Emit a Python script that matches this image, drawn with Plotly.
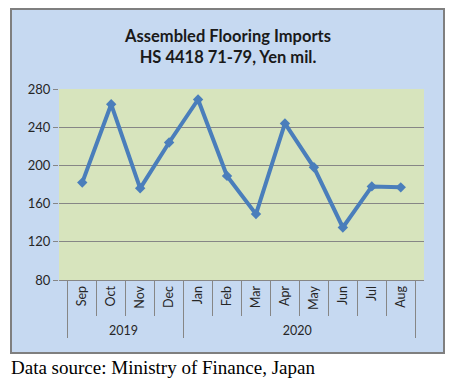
import plotly.graph_objects as go

years = ["2019"] * 4 + ["2020"] * 8
months = ["Sep", "Oct", "Nov", "Dec", "Jan", "Feb", "Mar", "Apr", "May", "Jun", "Jul", "Aug"]
values = [182, 264, 176, 224, 269, 189, 149, 244, 198, 135, 178, 177]
y_ticks = [80, 120, 160, 200, 240, 280]

W, H = 462, 380
L, R, T, B = 59, 38, 89, 100
pw, ph = W - L - R, H - T - B

def px(x):
    return (x - L) / pw

def py(y):
    return (H - B - y) / ph

fig = go.Figure()
fig.add_trace(go.Scatter(
    x=[years, months], y=values, mode="lines+markers",
    line=dict(color="#4A7EBB", width=4),
    marker=dict(symbol="diamond", size=8, color="#4A7EBB"),
    showlegend=False,
))

fig.update_layout(
    width=W, height=H,
    margin=dict(l=L, r=R, t=T, b=B, autoexpand=False),
    paper_bgcolor="white",
    plot_bgcolor="#D7E4BD",
    font=dict(family="Lato, sans-serif", color="#262626"),
    title=dict(
        text="<b>Assembled Flooring Imports<br>HS 4418 71-79, Yen mil.</b>",
        x=px(228), xref="paper", xanchor="center",
        y=1 - 42 / H, yref="container", yanchor="top",
        font=dict(size=16.5, family="Lato, sans-serif", color="#1a1a1a"),
    ),
    xaxis=dict(
        type="multicategory",
        automargin=False,
        tickangle=-90,
        tickfont=dict(size=12.5, color="#262626"),
        showgrid=False,
        ticks="outside", tickson="boundaries", ticklen=35, tickcolor="#868686",
        showdividers=True, dividercolor="#868686", dividerwidth=1,
        showline=True, linecolor="#868686", linewidth=1,
    ),
    yaxis=dict(
        automargin=False,
        range=[80, 280], tickvals=y_ticks,
        tickfont=dict(size=13, color="#262626"),
        showgrid=True, gridcolor="#868686", gridwidth=1,
        ticks="outside", ticklen=5, tickcolor="#868686",
        zeroline=False,
    ),
    shapes=[
        dict(type="rect", xref="paper", yref="paper", layer="below",
             x0=px(11), x1=px(444), y0=py(353), y1=py(9),
             fillcolor="#C6D9F1", line=dict(color="#7F7F7F", width=2)),
        dict(type="rect", xref="paper", yref="paper", layer="below",
             x0=0, x1=1, y0=0, y1=1,
             fillcolor="#D7E4BD", line=dict(width=0)),
    ],
    annotations=[
        dict(text="Data source: Ministry of Finance, Japan", xref="paper", yref="paper",
             x=px(9), y=py(355), xanchor="left", yanchor="top", showarrow=False,
             font=dict(family="Liberation Serif, Times New Roman, serif", size=19, color="black")),
    ],
)

fig.write_html(
    "out.html",
    config={"displayModeBar": False},
    post_script="document.body.style.margin='0';document.body.style.overflow='hidden';",
)
